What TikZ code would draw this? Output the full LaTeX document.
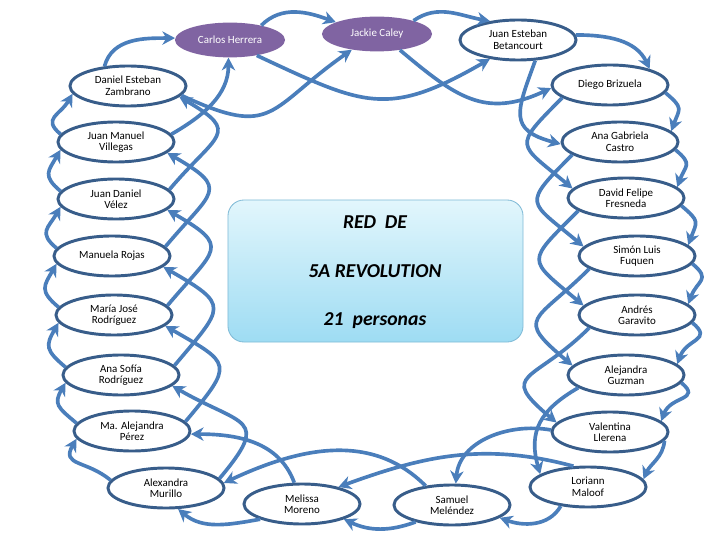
\documentclass[tikz,border=0pt]{standalone}
\usepackage{fontspec}
\setmainfont{Carlito}
\usepackage{tikz}
\usetikzlibrary{arrows.meta,shapes.geometric}
\definecolor{RedFlecha}{HTML}{4A7EBB}
\definecolor{RedBorde}{HTML}{385D8A}
\definecolor{RedMorado}{HTML}{8064A2}
\definecolor{CajaArriba}{HTML}{E2F6FC}
\definecolor{CajaAbajo}{HTML}{9EDCF3}
\definecolor{CajaBorde}{HTML}{7FBAD6}

\begin{document}
\begin{tikzpicture}[x=0.025cm, y=0.025cm,
    persona/.style={ellipse, draw=RedBorde, line width=2.1pt, fill=white, minimum width=2.9cm, minimum height=1cm, inner sep=0pt, align=center, font=\fontsize{7.8}{8.2}\selectfont},
    morada/.style={ellipse, fill=RedMorado, text=white, minimum width=2.75cm, minimum height=0.87cm, inner sep=0pt, font=\fontsize{7.8}{8.2}\selectfont},
    caja/.style={rounded corners=0.4cm, draw=CajaBorde, line width=0.6pt, top color=CajaArriba, bottom color=CajaAbajo, minimum width=7.375cm, minimum height=3.55cm},
    titulo/.style={anchor=base, font=\fontsize{14}{16}\selectfont\bfseries\itshape},
    flecha/.style={draw=RedFlecha, line width=2.6pt, -{Stealth[length=9pt,width=9.5pt,inset=2.8pt]}},
    izq/.style={out=140, in=240, looseness=1.5},
    der/.style={out=-40, in=70, looseness=1.6},
    cruceizq/.style={out=50, in=-30, looseness=2},
    cruceder/.style={out=-135, in=140, looseness=2}]
  \useasboundingbox (0,0) rectangle (720,540);

  \node[caja] (red) at (375.5,269) {};
  \node[titulo] (red1) at (375,311) {RED\ \ DE};
  \node[titulo] (red2) at (375,263) {5A REVOLUTION};
  \node[titulo] (red3) at (375,215) {21\ \ personas};

  \node[morada] (ch) at (230,500) {Carlos Herrera};
  \node[morada] (jc) at (377,506) {Jackie Caley};
  \node[persona] (jeb) at (518,500) {Juan Esteban\\Betancourt};
  \node[persona] (dez) at (128,454) {Daniel Esteban\\Zambrano};
  \node[persona] (db) at (610,455) {Diego Brizuela};
  \node[persona] (jmv) at (116,398) {Juan Manuel\\Villegas};
  \node[persona] (agc) at (620,398) {Ana Gabriela\\Castro};
  \node[persona] (jdv) at (116,341) {Juan Daniel\\Vélez};
  \node[persona] (dff) at (626,342) {David Felipe\\Fresneda};
  \node[persona] (mr) at (112,284) {Manuela Rojas};
  \node[persona] (slf) at (637,284) {Simón Luis\\Fuquen};
  \node[persona] (mjr) at (114,225) {María José\\Rodríguez};
  \node[persona] (ag) at (637,225) {Andrés\\Garavito};
  \node[persona] (asr) at (121,165) {Ana Sofía\\Rodríguez};
  \node[persona] (agu) at (626,165) {Alejandra\\Guzman};
  \node[persona] (map) at (132,109) {Ma. Alejandra\\Pérez};
  \node[persona] (vl) at (610,108) {Valentina\\Llerena};
  \node[persona] (am) at (166,52) {Alexandra\\Murillo};
  \node[persona] (mm) at (302,36) {Melissa\\Moreno};
  \node[persona] (sm) at (452,35) {Samuel\\Meléndez};
  \node[persona] (lm) at (588,53) {Loriann\\Maloof};

  \draw[flecha] (dez.140) to[out=75, in=180] (ch.178);
  \draw[flecha] (dez.-10) to[out=-25, in=215, looseness=1.5] (jc.212);
  \draw[flecha] (ch.25) to[out=45, in=160] (jc.164);
  \draw[flecha] (ch.-30) to[out=-25, in=210, looseness=1.3] (jeb.214);
  \draw[flecha] (jc.20) to[out=35, in=170] (jeb.146);
  \draw[flecha] (jc.-35) to[out=-40, in=205, looseness=1.2] (db.183);
  \draw[flecha] (jmv.8) to[out=30, in=-90] (ch.-95);

  \draw[flecha] (jeb.5) to[out=0, in=115] (db.22);
  \foreach \a/\b in {db/agc, agc/dff, dff/slf, slf/ag, ag/agu, agu/vl}
    \draw[flecha] (\a.-8) to[der] (\b.12);
  \draw[flecha] (vl.-9) to[out=-95, in=66] (lm.8);
  \draw[flecha] (jeb.-50) to[out=-110, in=165, looseness=1.6] (agc.182);
  \foreach \a/\b in {db/dff, agc/slf, dff/ag, slf/agu, ag/vl}
    \draw[flecha] (\a.195) to[cruceder] (\b.170);
  \draw[flecha] (agu.195) to[out=-150, in=106, looseness=1.2] (lm.165);
  \draw[flecha] (vl.178) to[out=170, in=85] (sm.80);

  \draw[flecha] (lm.215) to[out=-120, in=-20] (sm.-15);
  \draw[flecha] (lm.125) to[out=165, in=20] (mm.25);
  \draw[flecha] (sm.205) to[out=-160, in=-25] (mm.-20);
  \draw[flecha] (sm.144) to[out=135, in=25] (am.5);
  \draw[flecha] (mm.200) to[out=190, in=-40] (am.-60);
  \draw[flecha] (mm.110) to[out=110, in=0] (map.-3);

  \foreach \a/\b in {am/map, map/asr, asr/mjr, mjr/mr, mr/jdv, jdv/jmv, jmv/dez}
    \draw[flecha] (\a.172) to[izq] (\b.188);
  \foreach \a/\b in {am/asr, map/mjr, asr/mr, mjr/jdv, mr/jmv, jdv/dez}
    \draw[flecha] (\a.10) to[cruceizq] (\b.-12);
\end{tikzpicture}
\end{document}
